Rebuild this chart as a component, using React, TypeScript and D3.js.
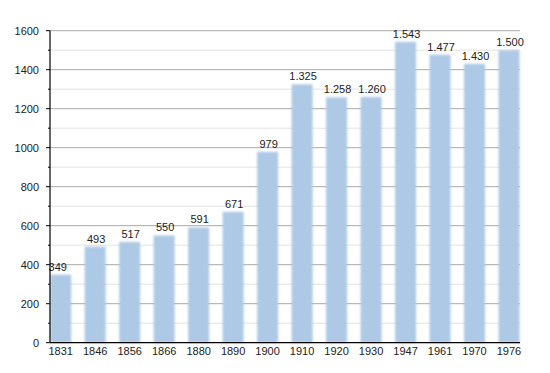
import React from "react";
import * as d3 from "d3";

const years = ["1831","1846","1856","1866","1880","1890","1900","1910","1920","1930","1947","1961","1970","1976"];
const population = [349,493,517,550,591,671,979,1325,1258,1260,1543,1477,1430,1500];
const majorTicks = [0,200,400,600,800,1000,1200,1400,1600];
const minorTicks = [100,300,500,700,900,1100,1300,1500];

const W = 550, H = 373;
const left = 50, right = 520, top = 30.7, bottom = 342.7;

export default function App() {
  const y = d3.scaleLinear().domain([0, 1600]).range([bottom, top]);
  const x = d3.scalePoint<string>().domain(years).range([60.7, 509]);
  const bw = 21;
  const fmt = d3.formatLocale({ decimal: ",", thousands: ".", grouping: [3], currency: ["", ""] }).format(",d");
  const font = "Liberation Sans, Arial, Helvetica, sans-serif";
  return (
    <svg width={W} height={H} style={{ position: "absolute", left: 0, top: 0, background: "#fff" }} fontFamily={font}>
      <defs>
        <filter id="soft" x="-20%" y="-5%" width="140%" height="110%">
          <feGaussianBlur stdDeviation="0.9" />
        </filter>
      </defs>
      {minorTicks.map(t => (
        <g key={"m" + t}>
          <line x1={left} x2={right} y1={y(t)} y2={y(t)} stroke="#e2e2e2" strokeWidth={1} />
          <line x1={left - 2} x2={left} y1={y(t)} y2={y(t)} stroke="#000" strokeWidth={1} />
        </g>
      ))}
      {majorTicks.map(t => (
        <g key={"M" + t}>
          {t > 0 && <line x1={left} x2={right} y1={y(t)} y2={y(t)} stroke="#a8a8a8" strokeWidth={1} />}
          <line x1={left - 4} x2={left} y1={y(t)} y2={y(t)} stroke="#000" strokeWidth={1} />
          <text x={39} y={y(t)} dy="0.35em" textAnchor="end" fontSize={11} fill="#222">{t}</text>
        </g>
      ))}
      {years.map((yr, i) => (
        <rect key={yr} x={x(yr)! - bw / 2} y={y(population[i])} width={bw} height={bottom - y(population[i])}
          fill="#adc9e5" filter="url(#soft)" />
      ))}
      {years.map((yr, i) => (
        <text key={"v" + yr} x={x(yr)! + (i === 0 ? -3 : 1)} y={y(population[i]) - 4} textAnchor="middle" fontSize={11} fill="#222">
          {fmt(population[i])}
        </text>
      ))}
      <line x1={left} x2={left} y1={top} y2={bottom} stroke="#000" strokeWidth={1.2} />
      <line x1={left} x2={right} y1={bottom} y2={bottom} stroke="#000" strokeWidth={1.2} />
      {years.map(yr => (
        <text key={"x" + yr} x={x(yr)!} y={355} textAnchor="middle" fontSize={11} fill="#222">{yr}</text>
      ))}
    </svg>
  );
}
